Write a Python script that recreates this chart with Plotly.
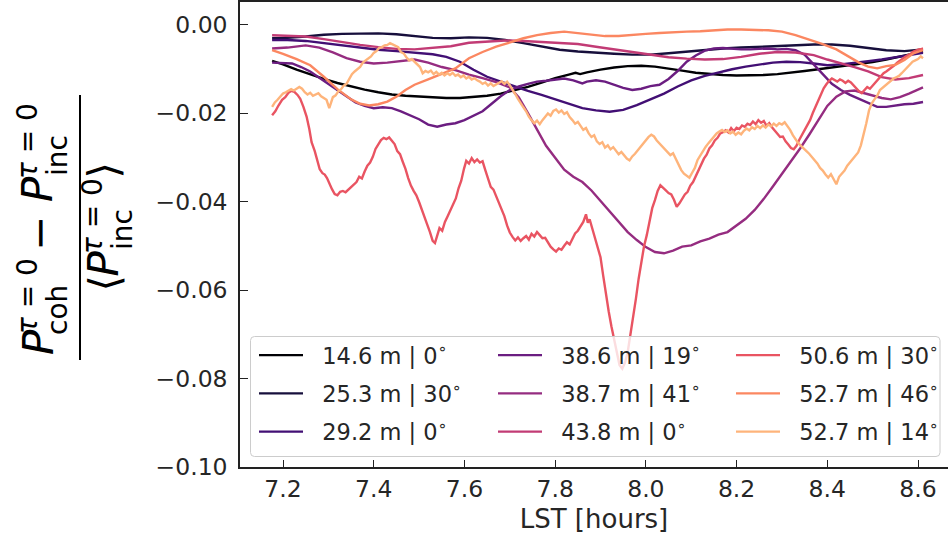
import numpy as np
import plotly.graph_objects as go

# ---------------------------------------------------------------------------
# Data: fractional power difference vs LST, values in units of 1e-3
# ---------------------------------------------------------------------------
labels = ["14.6 m | 0", "25.3 m | 30", "29.2 m | 0",
          "38.6 m | 19", "38.7 m | 41", "43.8 m | 0",
          "50.6 m | 30", "52.7 m | 46", "52.7 m | 14"]
# magma colormap sampled from 0 to 0.85
colors = ["#000004", "#170f3c", "#420f74", "#6b1d81", "#952c80",
          "#c23b75", "#e95462", "#fb8761", "#feb47b"]

lst_14p6 = [7.176, 7.20, 7.23, 7.26, 7.29, 7.32, 7.35, 7.38, 7.41, 7.44, 7.47, 7.50, 7.53,
            7.56, 7.59, 7.62, 7.65, 7.68, 7.71, 7.74, 7.77, 7.80, 7.83, 7.845, 7.855, 7.87,
            7.90, 7.93, 7.96, 7.99, 8.02, 8.05, 8.08, 8.11, 8.14, 8.17, 8.20, 8.23, 8.26,
            8.29, 8.32, 8.35, 8.38, 8.41, 8.44, 8.47, 8.50, 8.53, 8.56, 8.59, 8.611]
dp_14p6 = [-8.2, -9.0, -10.2, -11.3, -12.3, -13.2, -14.0, -14.7, -15.3, -15.8, -16.1, -16.3, -16.5,
           -16.6, -16.6, -16.4, -16.1, -15.6, -14.9, -14.1, -13.1, -12.1, -11.3, -10.9, -11.2, -10.8,
           -10.2, -9.7, -9.4, -9.3, -9.5, -9.9, -10.4, -10.9, -11.2, -11.4, -11.5, -11.5, -11.4,
           -11.2, -10.9, -10.5, -10.1, -9.7, -9.3, -8.9, -8.5, -7.9, -7.2, -6.6, -6.1]

lst_25p3 = [7.176, 7.21, 7.25, 7.29, 7.33, 7.37, 7.41, 7.45, 7.49, 7.53, 7.57, 7.61, 7.65, 7.69,
            7.73, 7.77, 7.81, 7.85, 7.89, 7.93, 7.97, 8.01, 8.05, 8.09, 8.13, 8.17, 8.21, 8.25,
            8.29, 8.33, 8.37, 8.41, 8.45, 8.49, 8.53, 8.57, 8.611]
dp_25p3 = [-3.1, -3.0, -2.7, -2.3, -2.1, -2.0, -2.0, -2.2, -2.6, -3.0, -3.1, -2.9, -3.0, -3.5,
           -4.2, -5.0, -5.7, -6.1, -6.4, -6.6, -6.8, -6.8, -6.5, -6.1, -5.7, -5.4, -5.2, -5.0,
           -4.8, -4.6, -4.5, -4.5, -4.8, -5.3, -5.8, -6.0, -5.6]

lst_29p2 = [7.176, 7.21, 7.25, 7.29, 7.33, 7.37, 7.41, 7.45, 7.49, 7.53, 7.56, 7.59, 7.62, 7.65,
            7.68, 7.71, 7.74, 7.77, 7.80, 7.83, 7.86, 7.89, 7.92, 7.95, 7.98, 8.01, 8.04, 8.07,
            8.10, 8.13, 8.16, 8.19, 8.22, 8.25, 8.28, 8.31, 8.34, 8.37, 8.40, 8.43, 8.46, 8.49,
            8.52, 8.55, 8.58, 8.611]
dp_29p2 = [-3.5, -3.5, -3.7, -4.2, -4.8, -5.3, -5.7, -6.0, -6.3, -6.7, -7.3, -8.4, -10.2, -11.8,
           -12.9, -14.0, -15.0, -15.9, -16.9, -18.0, -18.9, -19.4, -19.7, -19.3, -18.2, -16.9, -15.6, -14.0,
           -12.6, -11.6, -10.8, -10.1, -9.5, -9.0, -8.6, -8.4, -8.5, -8.8, -9.2, -9.0, -8.7, -8.3,
           -7.9, -7.4, -6.9, -6.4]

lst_38p6 = [7.176, 7.20, 7.22, 7.24, 7.26, 7.28, 7.30, 7.32, 7.34, 7.36, 7.38, 7.40, 7.42, 7.44,
            7.46, 7.48, 7.50, 7.52, 7.54, 7.56, 7.58, 7.60, 7.62, 7.64, 7.66, 7.68, 7.70, 7.72,
            7.74, 7.76, 7.78, 7.80, 7.82, 7.84, 7.86, 7.87, 7.89, 7.91, 7.93, 7.95, 7.97, 7.99,
            8.01, 8.03, 8.05, 8.07, 8.09, 8.11, 8.13, 8.15, 8.17, 8.19, 8.21, 8.23, 8.25, 8.27,
            8.29, 8.31, 8.33, 8.35, 8.37, 8.39, 8.41, 8.43, 8.45, 8.47, 8.49, 8.51, 8.53, 8.55,
            8.57, 8.59, 8.611]
dp_38p6 = [-8.6, -8.7, -8.8, -9.6, -10.6, -12.0, -13.4, -14.9, -16.2, -17.6, -18.4, -18.9, -18.7, -18.9,
           -19.6, -20.5, -21.4, -22.6, -23.1, -22.6, -22.3, -21.6, -20.6, -19.6, -17.9, -16.2, -14.8, -14.0,
           -13.4, -12.9, -12.7, -12.4, -12.2, -12.6, -13.3, -12.9, -12.6, -12.9, -13.6, -14.3, -14.8, -14.5,
           -13.9, -13.6, -12.3, -10.5, -8.4, -7.0, -5.9, -5.4, -5.3, -5.5, -5.6, -5.6, -5.5, -5.4,
           -5.6, -5.5, -5.8, -6.8, -9.0, -11.2, -13.4, -14.8, -15.9, -16.8, -17.7, -18.6, -18.6, -18.3,
           -18.0, -17.9, -17.5]

lst_38p7 = [7.176, 7.21, 7.25, 7.28, 7.31, 7.34, 7.37, 7.40, 7.43, 7.46, 7.49, 7.52, 7.55, 7.58,
            7.61, 7.64, 7.67, 7.70, 7.72, 7.74, 7.76, 7.78, 7.80, 7.82, 7.84, 7.86, 7.88, 7.90,
            7.92, 7.94, 7.96, 7.98, 8.00, 8.02, 8.04, 8.06, 8.08, 8.10, 8.12, 8.14, 8.16, 8.18,
            8.20, 8.22, 8.24, 8.26, 8.28, 8.30, 8.32, 8.34, 8.36, 8.38, 8.40, 8.42, 8.44, 8.46,
            8.48, 8.50, 8.52, 8.54, 8.56, 8.58, 8.60, 8.611]
dp_38p7 = [-5.4, -5.2, -4.7, -5.2, -6.3, -7.6, -8.4, -8.8, -8.6, -8.2, -7.9, -8.6, -9.6, -10.3,
           -11.3, -12.1, -13.0, -14.2, -16.5, -20.0, -23.6, -27.4, -30.1, -32.8, -34.4, -35.6, -37.5, -39.8,
           -42.1, -44.6, -46.9, -48.7, -50.3, -51.4, -51.7, -51.1, -50.2, -49.9, -49.0, -48.4, -47.5, -46.9,
           -45.3, -43.9, -41.9, -39.4, -36.6, -33.8, -31.0, -28.0, -24.9, -21.6, -18.4, -16.3, -15.1, -14.9,
           -15.5, -16.1, -16.6, -16.9, -16.4, -15.6, -14.6, -14.2]

lst_43p8 = [7.176, 7.21, 7.25, 7.29, 7.33, 7.37, 7.41, 7.45, 7.49, 7.53, 7.57, 7.61, 7.65, 7.69,
            7.73, 7.77, 7.81, 7.85, 7.89, 7.93, 7.97, 8.01, 8.05, 8.09, 8.13, 8.17, 8.21, 8.25,
            8.29, 8.33, 8.37, 8.40, 8.43, 8.46, 8.49, 8.52, 8.55, 8.58, 8.611]
dp_43p8 = [-2.4, -2.5, -2.7, -3.3, -4.0, -4.6, -5.1, -5.5, -5.6, -5.2, -4.9, -4.1, -3.8, -3.6,
           -3.7, -3.9, -4.1, -4.4, -5.0, -5.6, -6.3, -6.9, -7.4, -7.7, -7.9, -7.8, -7.3, -6.6,
           -6.2, -6.3, -6.9, -7.9, -8.7, -9.6, -10.6, -11.9, -12.4, -12.1, -11.4]

lst_50p6 = [7.176, 7.183, 7.190, 7.198, 7.205, 7.212, 7.218, 7.225, 7.232, 7.238, 7.245, 7.252, 7.258,
            7.263, 7.270, 7.276, 7.281, 7.287, 7.292, 7.297, 7.303, 7.308, 7.314, 7.320, 7.326, 7.332,
            7.338, 7.344, 7.350, 7.356, 7.362, 7.368, 7.374, 7.380, 7.386, 7.392, 7.398, 7.404, 7.410,
            7.416, 7.422, 7.428, 7.434, 7.440, 7.446, 7.452, 7.458, 7.464, 7.470, 7.476, 7.482, 7.488,
            7.494, 7.500, 7.506, 7.512, 7.518, 7.524, 7.530, 7.535, 7.540, 7.545, 7.551, 7.557, 7.563,
            7.569, 7.575, 7.581, 7.587, 7.593, 7.599, 7.604, 7.610, 7.616, 7.622, 7.628, 7.634, 7.640,
            7.646, 7.652, 7.658, 7.664, 7.670, 7.676, 7.682, 7.688, 7.694, 7.700, 7.706, 7.712, 7.718,
            7.724, 7.730, 7.736, 7.742, 7.748, 7.754, 7.760, 7.766, 7.772, 7.778, 7.784, 7.790, 7.796,
            7.802, 7.808, 7.814, 7.820, 7.826, 7.832, 7.838, 7.844, 7.850, 7.856, 7.862, 7.868, 7.872,
            7.876, 7.882, 7.888, 7.894, 7.900, 7.906, 7.912, 7.918, 7.924, 7.930, 7.936, 7.942, 7.948,
            7.954, 7.960, 7.966, 7.972, 7.978, 7.984, 7.990, 7.996, 8.002, 8.008, 8.014, 8.020, 8.026,
            8.032, 8.038, 8.044, 8.050, 8.056, 8.062, 8.068, 8.074, 8.080, 8.086, 8.092, 8.098, 8.104,
            8.110, 8.116, 8.122, 8.128, 8.134, 8.140, 8.146, 8.152, 8.158, 8.164, 8.170, 8.176, 8.182,
            8.188, 8.194, 8.200, 8.206, 8.212, 8.218, 8.224, 8.230, 8.236, 8.242, 8.248, 8.254, 8.260,
            8.266, 8.272, 8.278, 8.284, 8.290, 8.296, 8.302, 8.308, 8.314, 8.320, 8.326, 8.332, 8.338,
            8.344, 8.350, 8.356, 8.362, 8.368, 8.374, 8.380, 8.386, 8.392, 8.398, 8.404, 8.410, 8.416,
            8.422, 8.428, 8.434, 8.440, 8.446, 8.452, 8.458, 8.464, 8.470, 8.476, 8.482, 8.488, 8.494,
            8.500, 8.506, 8.512, 8.518, 8.524, 8.530, 8.536, 8.542, 8.548, 8.554, 8.560, 8.566, 8.572,
            8.578, 8.584, 8.590, 8.596, 8.602, 8.608, 8.611]
dp_50p6 = [-20.5, -19.6, -18.3, -17.0, -16.4, -15.4, -15.0, -15.2, -15.9, -16.8, -18.6, -20.8, -23.6,
           -26.6, -28.6, -31.1, -32.7, -33.6, -33.9, -34.7, -36.2, -37.2, -38.3, -38.6, -37.8, -37.6,
           -37.9, -37.3, -36.7, -36.2, -35.6, -34.4, -34.8, -33.2, -31.9, -31.2, -29.9, -28.1, -27.2,
           -26.1, -25.6, -25.9, -25.5, -26.3, -27.0, -28.6, -29.3, -31.0, -32.6, -34.7, -36.4, -37.6,
           -38.6, -40.1, -41.7, -43.2, -45.2, -46.9, -48.9, -49.4, -47.6, -46.0, -46.6, -44.6, -43.3,
           -42.0, -40.8, -39.3, -37.0, -35.3, -32.6, -30.8, -31.4, -30.2, -31.1, -30.5, -31.2, -30.9,
           -32.9, -34.7, -36.7, -37.3, -38.8, -40.1, -41.6, -43.3, -45.4, -47.0, -48.0, -48.8, -48.1,
           -48.9, -48.3, -47.8, -48.6, -47.3, -47.9, -46.9, -47.6, -48.3, -48.2, -49.3, -50.2, -50.8,
           -51.3, -50.6, -50.9, -50.0, -49.2, -49.7, -48.6, -47.2, -46.6, -45.5, -44.6, -42.9, -44.8,
           -44.0, -46.3, -48.5, -50.3, -52.6, -56.8, -61.0, -64.8, -68.2, -71.0, -74.5, -77.0, -77.8,
           -76.4, -74.0, -70.1, -66.4, -62.0, -57.5, -53.4, -50.1, -47.6, -44.1, -41.5, -39.7, -37.6,
           -36.3, -36.8, -37.5, -38.1, -38.4, -39.6, -41.2, -40.4, -39.4, -38.4, -37.8, -36.4, -35.6,
           -34.2, -32.8, -31.5, -30.3, -29.4, -28.0, -27.3, -26.2, -25.6, -24.6, -24.3, -23.9, -24.4,
           -23.4, -24.1, -23.3, -23.6, -22.8, -23.1, -22.4, -22.7, -21.9, -22.5, -21.6, -22.2, -21.8,
           -22.9, -22.3, -23.2, -23.9, -24.6, -25.4, -25.3, -26.4, -27.1, -27.9, -28.2, -27.4, -26.1,
           -25.0, -23.7, -22.9, -21.6, -20.0, -18.5, -17.1, -15.8, -14.4, -13.5, -12.7, -12.2, -12.6,
           -12.9, -12.4, -12.7, -13.2, -12.7, -13.1, -13.8, -14.6, -15.1, -15.5, -14.8, -14.1, -14.5,
           -13.8, -13.0, -12.2, -11.6, -11.0, -10.6, -10.2, -9.8, -9.2, -8.6, -8.1, -7.6, -7.3,
           -6.9, -6.6, -6.1, -5.8, -5.6, -5.5, -5.4]

lst_52p7a = [7.176, 7.20, 7.23, 7.26, 7.29, 7.32, 7.35, 7.37, 7.39, 7.41, 7.43, 7.45, 7.47, 7.49,
             7.52, 7.55, 7.58, 7.61, 7.64, 7.67, 7.70, 7.73, 7.76, 7.79, 7.82, 7.85, 7.88, 7.91,
             7.94, 7.97, 8.00, 8.03, 8.06, 8.09, 8.12, 8.15, 8.18, 8.21, 8.24, 8.27, 8.30, 8.33,
             8.36, 8.39, 8.42, 8.45, 8.47, 8.49, 8.51, 8.53, 8.55, 8.57, 8.59, 8.611]
dp_52p7a = [-5.8, -6.6, -7.8, -9.2, -11.8, -14.6, -16.9, -17.9, -18.3, -18.0, -17.4, -16.3, -14.8, -13.6,
            -12.4, -11.2, -9.9, -7.6, -6.2, -5.0, -4.0, -3.1, -2.4, -1.9, -1.6, -1.9, -2.3, -2.6,
            -2.6, -2.3, -2.1, -1.9, -1.7, -1.6, -1.5, -1.3, -1.1, -1.1, -1.2, -1.3, -1.6, -2.4,
            -3.4, -4.4, -5.6, -7.4, -8.6, -9.5, -9.9, -9.4, -9.1, -8.0, -6.5, -5.8]

lst_52p7b = [7.176, 7.182, 7.188, 7.194, 7.200, 7.206, 7.212, 7.218, 7.224, 7.230, 7.236, 7.242, 7.248,
             7.254, 7.260, 7.266, 7.272, 7.278, 7.284, 7.290, 7.296, 7.302, 7.306, 7.310, 7.316, 7.322,
             7.328, 7.334, 7.340, 7.346, 7.352, 7.358, 7.364, 7.370, 7.376, 7.382, 7.388, 7.394, 7.400,
             7.406, 7.412, 7.418, 7.424, 7.430, 7.436, 7.442, 7.448, 7.454, 7.460, 7.466, 7.472, 7.478,
             7.484, 7.490, 7.496, 7.502, 7.508, 7.514, 7.520, 7.526, 7.532, 7.538, 7.544, 7.550, 7.556,
             7.562, 7.568, 7.574, 7.580, 7.586, 7.592, 7.598, 7.604, 7.610, 7.616, 7.622, 7.628, 7.634,
             7.640, 7.646, 7.652, 7.658, 7.664, 7.670, 7.676, 7.682, 7.688, 7.694, 7.700, 7.706, 7.712,
             7.718, 7.724, 7.730, 7.736, 7.742, 7.748, 7.754, 7.760, 7.766, 7.772, 7.778, 7.784, 7.790,
             7.796, 7.802, 7.808, 7.814, 7.820, 7.826, 7.832, 7.838, 7.844, 7.850, 7.856, 7.862, 7.868,
             7.874, 7.880, 7.886, 7.892, 7.898, 7.904, 7.910, 7.916, 7.922, 7.928, 7.934, 7.940, 7.946,
             7.952, 7.958, 7.964, 7.970, 7.976, 7.982, 7.988, 7.994, 8.000, 8.006, 8.012, 8.018, 8.024,
             8.030, 8.036, 8.042, 8.048, 8.054, 8.060, 8.066, 8.072, 8.078, 8.084, 8.090, 8.096, 8.102,
             8.108, 8.114, 8.120, 8.126, 8.132, 8.138, 8.144, 8.150, 8.156, 8.162, 8.168, 8.174, 8.180,
             8.186, 8.192, 8.198, 8.204, 8.210, 8.216, 8.222, 8.228, 8.234, 8.240, 8.246, 8.252, 8.258,
             8.264, 8.270, 8.276, 8.282, 8.288, 8.294, 8.300, 8.306, 8.312, 8.318, 8.324, 8.330, 8.336,
             8.342, 8.348, 8.354, 8.360, 8.366, 8.372, 8.378, 8.384, 8.390, 8.396, 8.402, 8.408, 8.414,
             8.420, 8.426, 8.432, 8.438, 8.444, 8.450, 8.456, 8.462, 8.468, 8.474, 8.480, 8.486, 8.492,
             8.498, 8.504, 8.510, 8.516, 8.522, 8.528, 8.534, 8.540, 8.546, 8.552, 8.558, 8.564, 8.570,
             8.576, 8.582, 8.588, 8.594, 8.600, 8.606, 8.611]
dp_52p7b = [-18.6, -17.6, -17.0, -16.3, -15.6, -15.3, -14.9, -14.6, -14.9, -14.4, -14.1, -14.5, -15.3,
            -15.8, -15.4, -16.1, -15.7, -15.5, -16.2, -16.6, -17.0, -18.9, -17.6, -16.4, -16.0, -15.1,
            -14.6, -13.8, -13.4, -12.4, -11.2, -10.6, -10.1, -9.6, -8.6, -8.1, -7.6, -7.2, -6.4,
            -6.0, -5.3, -5.1, -4.7, -4.6, -4.2, -4.5, -4.9, -5.1, -6.2, -6.5, -7.4, -8.1,
            -7.8, -8.4, -8.8, -9.6, -11.0, -10.5, -10.8, -10.4, -11.2, -10.7, -11.3, -10.9, -11.5,
            -11.0, -11.4, -10.9, -11.6, -11.3, -11.9, -11.5, -12.2, -11.8, -12.4, -12.1, -12.6, -12.9,
            -13.4, -13.1, -13.8, -13.3, -13.9, -13.5, -13.0, -12.8, -13.4, -12.9, -13.7, -14.6, -15.7,
            -16.8, -17.9, -18.7, -19.6, -20.8, -21.6, -22.3, -21.7, -22.5, -21.6, -20.8, -20.1, -20.6,
            -19.5, -19.2, -19.9, -19.4, -20.2, -19.8, -20.9, -21.6, -22.4, -22.0, -23.0, -23.8, -23.4,
            -24.6, -25.4, -25.0, -26.4, -27.0, -26.6, -27.8, -27.3, -28.2, -27.7, -28.6, -29.3, -28.8,
            -29.6, -30.3, -30.7, -29.8, -29.2, -28.4, -27.6, -26.8, -26.1, -25.4, -24.9, -25.3, -26.2,
            -26.9, -27.4, -28.1, -28.8, -29.5, -29.1, -30.4, -31.6, -32.9, -33.7, -34.2, -34.6, -33.5,
            -32.4, -30.6, -29.6, -28.4, -27.6, -26.8, -26.0, -25.2, -24.6, -24.2, -23.8, -24.3, -23.9,
            -24.6, -24.2, -24.9, -24.4, -24.8, -24.0, -23.5, -23.9, -23.2, -23.6, -22.9, -23.4, -22.8,
            -23.3, -22.6, -23.0, -22.4, -22.9, -22.3, -22.6, -22.1, -22.9, -23.8, -25.0, -26.0, -26.8,
            -27.4, -28.1, -28.6, -29.2, -29.9, -30.6, -31.4, -32.4, -33.0, -33.9, -34.6, -33.8, -35.1,
            -36.1, -34.4, -33.6, -33.0, -31.9, -31.1, -30.5, -29.6, -28.9, -27.3, -25.1, -22.3, -19.4,
            -17.8, -16.9, -16.1, -14.8, -14.3, -13.6, -13.1, -12.6, -12.2, -11.9, -11.6, -11.0, -10.4,
            -9.6, -9.1, -8.4, -8.1, -7.8, -7.2, -7.6]

series_t = [lst_14p6, lst_25p3, lst_29p2, lst_38p6, lst_38p7, lst_43p8, lst_50p6, lst_52p7a, lst_52p7b]
series_v = [dp_14p6, dp_25p3, dp_29p2, dp_38p6, dp_38p7, dp_43p8, dp_50p6, dp_52p7a, dp_52p7b]

x_ticks = [7.2, 7.4, 7.6, 7.8, 8.0, 8.2, 8.4, 8.6]
y_ticks = [0.0, -0.02, -0.04, -0.06, -0.08, -0.10]

# ---------------------------------------------------------------------------
# Canvas geometry (pixels)
# ---------------------------------------------------------------------------
W, H = 948, 540
ML, MT, MB = 240, 2, 73
PW, PH = W - ML, H - MT - MB


def xp(px):
    return (px - ML) / PW


def yp(py):
    return (H - MB - py) / PH


FONT = "DejaVu Sans"
INK = "#262626"

fig = go.Figure()
legend_keys = ["legend", "legend2", "legend3"]
for i, (t, v) in enumerate(zip(series_t, series_v)):
    fig.add_trace(go.Scatter(
        x=t, y=np.asarray(v) * 1e-3, mode="lines",
        name="\u00a0\u00a0" + labels[i] + "<sup>\u2218</sup>",
        line=dict(color=colors[i], width=2.4),
        legend=legend_keys[i // 3], legendgroup="g%d" % i,
        hoverinfo="skip",
    ))

# legend columns (column-major like a 3-column legend)
handle_left = [259, 498, 736]
legend_cfg = {}
for c, key in enumerate(legend_keys):
    legend_cfg[key] = dict(
        x=xp(handle_left[c] - 5), y=yp(334), xanchor="left", yanchor="top",
        bgcolor="rgba(0,0,0,0)", borderwidth=0, itemwidth=44,
        traceorder="grouped", tracegroupgap=6,
        font=dict(family=FONT, size=22.5, color=INK),
    )

# legend frame: rounded, translucent white
L, R, T, B, r = 250.5, 940, 336.5, 456.5, 4
frame = (f"M {xp(L + r)},{yp(T)} L {xp(R - r)},{yp(T)} Q {xp(R)},{yp(T)} {xp(R)},{yp(T + r)} "
         f"L {xp(R)},{yp(B - r)} Q {xp(R)},{yp(B)} {xp(R - r)},{yp(B)} "
         f"L {xp(L + r)},{yp(B)} Q {xp(L)},{yp(B)} {xp(L)},{yp(B - r)} "
         f"L {xp(L)},{yp(T + r)} Q {xp(L)},{yp(T)} {xp(L + r)},{yp(T)} Z")
shapes = [dict(type="path", path=frame, xref="paper", yref="paper", layer="above",
               fillcolor="rgba(255,255,255,0.8)", line=dict(color="#cccccc", width=1))]

# y-axis label: a rotated fraction built from pieces
BIG, SMALL = 42, 28
pieces = [
    ("<i>P</i>", 38, 342, BIG), ("coh", 57, 310, SMALL), ("<i>\u03c4</i> = 0", 27, 296, SMALL),
    ("\u2212", 39, 233, BIG),
    ("<i>P</i>", 38, 189, BIG), ("inc", 57, 156, SMALL), ("<i>\u03c4</i> = 0", 27, 141, SMALL),
    ("\u27e8", 103.5, 284, BIG), ("<i>P</i>", 103, 263.5, BIG), ("inc", 122, 230, SMALL),
    ("<i>\u03c4</i> = 0", 92, 216, SMALL), ("\u27e9", 103.5, 171, BIG),
]
annotations = []
for txt, sx, sy, fs in pieces:
    annotations.append(dict(text=txt, x=xp(sx), y=yp(sy), xref="paper", yref="paper",
                            textangle=-90, showarrow=False, xanchor="center", yanchor="middle",
                            font=dict(family=FONT, size=fs, color="black")))
shapes.append(dict(type="line", xref="paper", yref="paper", x0=xp(80), x1=xp(80),
                   y0=yp(95), y1=yp(360), line=dict(color="black", width=2)))

fig.update_layout(
    width=W, height=H, margin=dict(l=ML, r=0, t=MT, b=MB),
    paper_bgcolor="white", plot_bgcolor="white",
    font=dict(family=FONT, color=INK),
    showlegend=True, shapes=shapes, annotations=annotations,
    **legend_cfg,
)
fig.update_xaxes(
    range=[7.1052, 8.6661], tickvals=x_ticks, ticktext=["%.1f" % v for v in x_ticks],
    showline=True, linecolor="#222222", linewidth=1.5, mirror=True,
    ticks="inside", ticklen=7, tickwidth=1.4, tickcolor="#222222",
    tickfont=dict(family=FONT, size=23.5, color=INK), showgrid=False, zeroline=False,
    title=dict(text="LST [hours]", font=dict(family=FONT, size=26, color=INK), standoff=8),
)
fig.update_yaxes(
    range=[-0.1, 0.0051], tickvals=y_ticks,
    ticktext=["0.00"] + ["\u2212%.2f" % abs(v) for v in y_ticks[1:]],
    showline=True, linecolor="#222222", linewidth=1.5, mirror=False,
    ticks="inside", ticklen=8, tickwidth=1.4, tickcolor="#222222", ticklabelstandoff=6,
    tickfont=dict(family=FONT, size=23.5, color=INK), showgrid=False, zeroline=False,
)

fig.write_html("out.html")
